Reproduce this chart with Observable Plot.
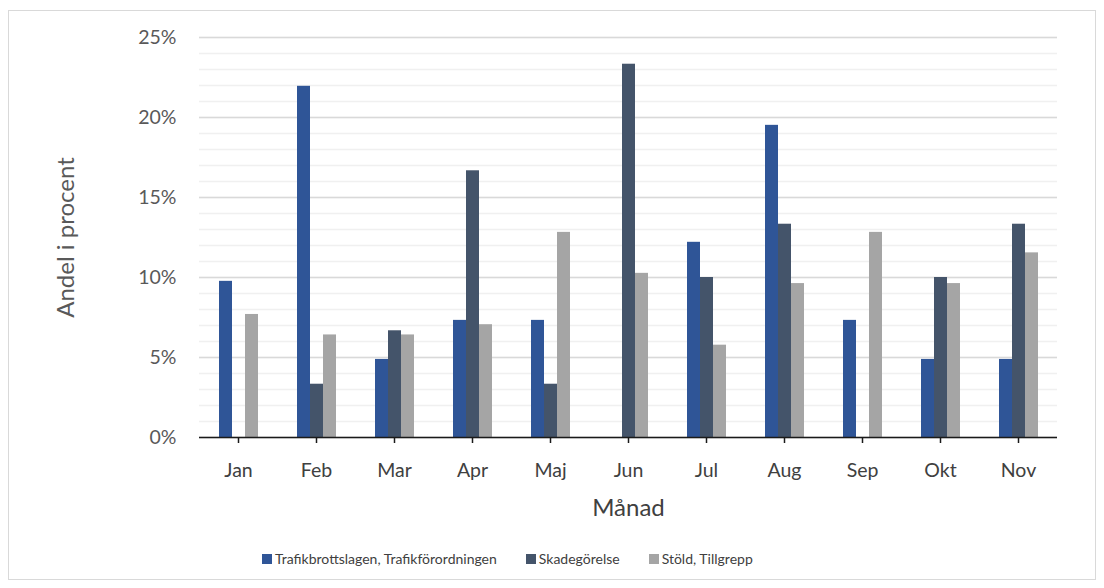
<!DOCTYPE html>
<html><head><meta charset="utf-8">
<script src="https://cdn.jsdelivr.net/npm/d3@7"></script>
<script src="https://cdn.jsdelivr.net/npm/@observablehq/plot@0.6"></script>
<style>
body{margin:0;background:#fff;font-family:Lato, "Open Sans", sans-serif;}
#wrap{position:relative;width:1104px;height:588px;overflow:hidden}
#frame{position:absolute;left:8px;top:10px;width:1088px;height:570px;border:1px solid #d9d9d9;box-sizing:border-box}
#chart{position:absolute;left:0;top:0}
#legend{position:absolute;left:262px;top:550px;display:flex;gap:29px;font-size:14px;color:#404040;white-space:nowrap}
#legend .it{display:flex;align-items:center;gap:3px}
#legend .sw{width:10px;height:10px;display:inline-block}
g[aria-label="y-axis label"], g[aria-label="fx-axis label"]{font-size:24px}
</style>
</head><body>
<div id="wrap"><div id="frame"></div><div id="chart"></div><div id="legend"></div></div>
<script>
const months = ["Jan","Feb","Mar","Apr","Maj","Jun","Jul","Aug","Sep","Okt","Nov"];
const series = ["Trafikbrottslagen, Trafikförordningen","Skadegörelse","Stöld, Tillgrepp"];
const colors = ["#2F5597","#44546A","#A5A5A5"];
const trafik = [9.76, 21.95, 4.88, 7.32, 7.32, 0, 12.20, 19.51, 7.32, 4.88, 4.88];
const skade  = [0, 3.33, 6.67, 16.67, 3.33, 23.33, 10.00, 13.33, 0, 10.00, 13.33];
const stold  = [7.69, 6.41, 6.41, 7.05, 12.82, 10.26, 5.77, 9.62, 12.82, 9.62, 11.54];
const yTicks = [0, 5, 10, 15, 20, 25];

const values = [trafik, skade, stold];
const data = months.flatMap((m, i) => series.map((s, j) => ({month: m, series: s, value: values[j][i]})));

const chart = Plot.plot({
  width: 1104, height: 530,
  marginLeft: 196, marginRight: 45, marginTop: 37, marginBottom: 93,
  style: {fontFamily: "Lato, 'Open Sans', sans-serif", background: "transparent"},
  fx: {domain: months, padding: 0, label: "Månad"},
  x: {domain: series, paddingInner: 0, paddingOuter: 1.3, axis: null},
  y: {domain: [0, 25]},
  color: {domain: series, range: colors},
  marks: [
    Plot.gridY({ticks: 25, stroke: "#f0f0f0", strokeOpacity: 1, strokeWidth: 1.3}),
    Plot.gridY(yTicks, {stroke: "#d9d9d9", strokeOpacity: 1, strokeWidth: 1.3}),
    Plot.axisY(yTicks, {tickSize: 0, tickPadding: 23, tickFormat: d => d + "%", fontSize: 19.5, fill: "#595959",
      label: "Andel i procent", labelArrow: "none", labelAnchor: "center", labelOffset: 143}),
    Plot.barY(data, {fx: "month", x: "series", y: "value", fill: "series"}),
    Plot.ruleY([0], {stroke: "#1a1a1a", strokeWidth: 1.5}),
    Plot.axisFx({anchor: "bottom", tickSize: 6, tickPadding: 20, fontSize: 19.5, fill: "#404040", stroke: "#1a1a1a", strokeWidth: 1.5,
      label: "Månad", labelArrow: "none", labelAnchor: "center", labelOffset: 78})
  ]
});
document.getElementById("chart").appendChild(chart);

const legend = document.getElementById("legend");
series.forEach((s, i) => {
  const it = document.createElement("div");
  it.className = "it";
  it.innerHTML = `<span class="sw" style="background:${colors[i]}"></span><span>${s}</span>`;
  legend.appendChild(it);
});
</script>
</body></html>
